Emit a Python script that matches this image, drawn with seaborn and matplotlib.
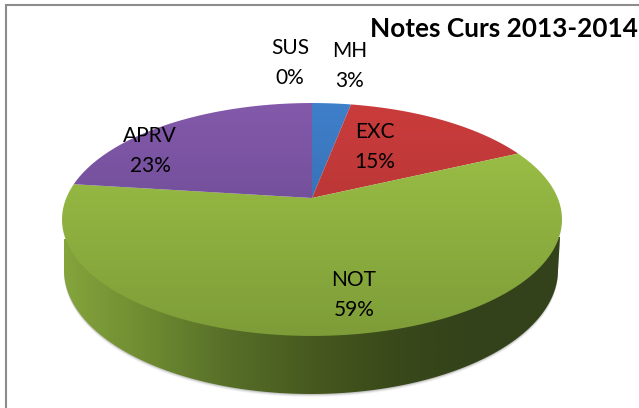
import numpy as np
import matplotlib
matplotlib.use('Agg')
import matplotlib.pyplot as plt
from matplotlib.colors import LinearSegmentedColormap
from matplotlib.patches import Polygon
from matplotlib.transforms import Affine2D
import seaborn as sns

# Values
categories = ['MH', 'EXC', 'NOT', 'SUS', 'APRV']
percents = [3, 15, 59, 0, 23]
title = 'Notes Curs 2013-2014'

# Order of drawing in the chart: clockwise from the top
pie_order = ['MH', 'EXC', 'NOT', 'APRV', 'SUS']
pie_values = [percents[categories.index(c)] for c in pie_order]

top_colors = {'MH': '#3f80cb', 'EXC': '#cb3c3c', 'NOT': '#a0c648', 'APRV': '#8459ab', 'SUS': '#4bacc6'}
low_colors = {'MH': '#2e5f9c', 'EXC': '#a53030', 'NOT': '#7d9c38', 'APRV': '#5d4487', 'SUS': '#4bacc6'}
wall_colors = ['#84a43c', '#6f8b31', '#566e28', '#47591f', '#39491a', '#33421a', '#33421a']

label_pos = {'SUS': (290, 63), 'MH': (350, 66), 'EXC': (375, 147), 'APRV': (150, 151), 'NOT': (354, 295)}

sns.set_theme(style='white')
plt.rcParams['font.family'] = ['Lato', 'DejaVu Sans']

fig = plt.figure(figsize=(6.39, 4.08), dpi=100)
ax = fig.add_axes([0, 0, 1, 1])

wedges, _ = ax.pie(pie_values, startangle=90, counterclock=False, radius=1, normalize=True)

# perspective of the tilted disc, pixels of the picture
cx, cy = 312, 198
k, sy, sx = 0.1845, 112.5, 245.7


def tilt(xy):
    d = 1 + k * xy[:, 1]
    return np.column_stack([cx + sx * xy[:, 0] / d, cy - sy * xy[:, 1] / d])


def flat(w):
    # curves of the wedge into a polygon
    p = w.get_patch_transform().transform_path(w.get_path())
    polys = p.transformed(Affine2D().scale(500)).to_polygons()
    return polys[0] / 500 if polys else None


# side wall with a soft shadow
t = np.linspace(np.pi, 2 * np.pi, 200)
wx, wy = 311 + 247 * np.cos(t), 270 - 124 * np.sin(t)
wall_xy = np.column_stack([wx, wy])
wall_xy = np.vstack([[[64, 239]], wall_xy, [[560, 237]]])
for off, a in [(3, 0.06), (2, 0.10), (1, 0.16)]:
    ax.add_patch(Polygon(wall_xy + [0, off], closed=True, fc='#404040', ec='none', alpha=a, zorder=1))
wall_cmap = LinearSegmentedColormap.from_list('wall', wall_colors)
im = ax.imshow(np.linspace(0, 1, 256)[None, :], cmap=wall_cmap, aspect='auto',
               extent=(64, 560, 400, 230), zorder=2)
wall_patch = Polygon(wall_xy, closed=True, fc='none', ec='none', transform=ax.transData)
ax.add_patch(wall_patch)
im.set_clip_path(wall_patch)

# top surface, each slice with a vertical gradient
for name, w in zip(pie_order, wedges):
    w.set_visible(False)
    xy = flat(w)
    if xy is None or percents[categories.index(name)] == 0:
        continue
    xy = tilt(xy)
    cmap = LinearSegmentedColormap.from_list(name, [top_colors[name], low_colors[name]])
    im = ax.imshow(np.linspace(0, 1, 256)[:, None], cmap=cmap, aspect='auto',
                   extent=(55, 570, 340, 100), zorder=3)
    patch = Polygon(xy, closed=True, fc='none', ec='none', transform=ax.transData)
    ax.add_patch(patch)
    im.set_clip_path(patch)

# frame of the chart area
ax.plot([6, 6, 639], [408, 4.5, 4.5], color='#8c8c8c', lw=1.5, zorder=5, solid_joinstyle='miter')

for name, (x, y) in label_pos.items():
    val = percents[categories.index(name)]
    ax.text(x, y, f'{name}\n{val}%', ha='center', va='center', fontsize=15,
            color='black', linespacing=1.65, zorder=6)

ax.text(638, 29, title, ha='right', va='center', fontsize=18.8, fontweight='bold', color='black', zorder=6)

ax.set_aspect('auto')
ax.set_xlim(0, 639)
ax.set_ylim(408, 0)
ax.axis('off')

fig.savefig('out.png', dpi=100, facecolor='white')
